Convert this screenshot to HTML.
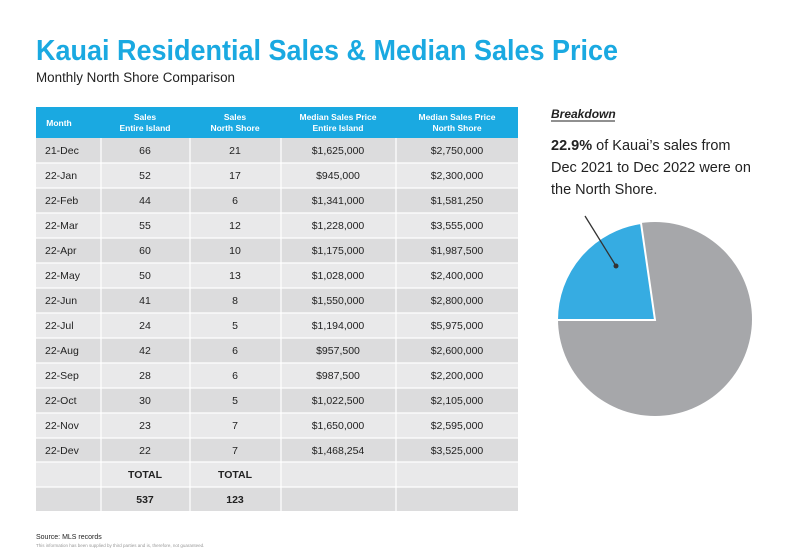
<!DOCTYPE html>
<html><head><meta charset="utf-8"><style>
html,body{margin:0;padding:0;background:#fff;}
svg{display:block;font-family:"Liberation Sans",sans-serif;}
</style></head><body>
<svg width="800" height="550" viewBox="0 0 800 550" xmlns="http://www.w3.org/2000/svg">
<rect width="800" height="550" fill="#fff"/>
<text x="36" y="60" font-size="29" font-weight="bold" fill="#1aa9e1" textLength="582" lengthAdjust="spacingAndGlyphs">Kauai Residential Sales &amp; Median Sales Price</text>
<text x="36" y="82" font-size="13.5" fill="#222" textLength="199" lengthAdjust="spacingAndGlyphs">Monthly North Shore Comparison</text>

<!-- table header -->
<rect x="36" y="107" width="482" height="31" fill="#1aa9e1"/>
<g font-size="8.5" font-weight="bold" fill="#fff" text-anchor="middle">
<text x="59" y="126">Month</text>
<text x="145" y="120">Sales</text><text x="145" y="131">Entire Island</text>
<text x="235" y="120">Sales</text><text x="235" y="131">North Shore</text>
<text x="338" y="120">Median Sales Price</text><text x="338" y="131">Entire Island</text>
<text x="457" y="120">Median Sales Price</text><text x="457" y="131">North Shore</text>
</g>
<g id="rows"></g>
<!-- rows -->
<g font-size="10.5" fill="#222">
<rect x="36" y="138" width="482" height="25" fill="#dcdcdd"/>
<rect x="36" y="163" width="482" height="25" fill="#e9e9ea"/>
<rect x="36" y="188" width="482" height="25" fill="#dcdcdd"/>
<rect x="36" y="213" width="482" height="25" fill="#e9e9ea"/>
<rect x="36" y="238" width="482" height="25" fill="#dcdcdd"/>
<rect x="36" y="263" width="482" height="25" fill="#e9e9ea"/>
<rect x="36" y="288" width="482" height="25" fill="#dcdcdd"/>
<rect x="36" y="313" width="482" height="25" fill="#e9e9ea"/>
<rect x="36" y="338" width="482" height="25" fill="#dcdcdd"/>
<rect x="36" y="363" width="482" height="25" fill="#e9e9ea"/>
<rect x="36" y="388" width="482" height="25" fill="#dcdcdd"/>
<rect x="36" y="413" width="482" height="25" fill="#e9e9ea"/>
<rect x="36" y="438" width="482" height="24" fill="#dcdcdd"/>
<rect x="36" y="462" width="482" height="25" fill="#e9e9ea"/>
<rect x="36" y="487" width="482" height="24" fill="#dcdcdd"/>
<g stroke="#fff" stroke-width="1.2">
<line x1="101" y1="138" x2="101" y2="511"/><line x1="190" y1="138" x2="190" y2="511"/>
<line x1="281" y1="138" x2="281" y2="511"/><line x1="396" y1="138" x2="396" y2="511"/>
<line x1="36" y1="163" x2="518" y2="163"/><line x1="36" y1="188" x2="518" y2="188"/>
<line x1="36" y1="213" x2="518" y2="213"/><line x1="36" y1="238" x2="518" y2="238"/>
<line x1="36" y1="263" x2="518" y2="263"/><line x1="36" y1="288" x2="518" y2="288"/>
<line x1="36" y1="313" x2="518" y2="313"/><line x1="36" y1="338" x2="518" y2="338"/>
<line x1="36" y1="363" x2="518" y2="363"/><line x1="36" y1="388" x2="518" y2="388"/>
<line x1="36" y1="413" x2="518" y2="413"/><line x1="36" y1="438" x2="518" y2="438"/>
<line x1="36" y1="462" x2="518" y2="462"/><line x1="36" y1="487" x2="518" y2="487"/>
</g>
<g>
<text x="45" y="154">21-Dec</text><text x="45" y="179">22-Jan</text><text x="45" y="204">22-Feb</text>
<text x="45" y="229">22-Mar</text><text x="45" y="254">22-Apr</text><text x="45" y="279">22-May</text>
<text x="45" y="304">22-Jun</text><text x="45" y="329">22-Jul</text><text x="45" y="354">22-Aug</text>
<text x="45" y="379">22-Sep</text><text x="45" y="404">22-Oct</text><text x="45" y="429">22-Nov</text>
<text x="45" y="454">22-Dev</text>
</g>
<g text-anchor="middle">
<text x="145" y="154">66</text><text x="145" y="179">52</text><text x="145" y="204">44</text>
<text x="145" y="229">55</text><text x="145" y="254">60</text><text x="145" y="279">50</text>
<text x="145" y="304">41</text><text x="145" y="329">24</text><text x="145" y="354">42</text>
<text x="145" y="379">28</text><text x="145" y="404">30</text><text x="145" y="429">23</text>
<text x="145" y="454">22</text>
<text x="235" y="154">21</text><text x="235" y="179">17</text><text x="235" y="204">6</text>
<text x="235" y="229">12</text><text x="235" y="254">10</text><text x="235" y="279">13</text>
<text x="235" y="304">8</text><text x="235" y="329">5</text><text x="235" y="354">6</text>
<text x="235" y="379">6</text><text x="235" y="404">5</text><text x="235" y="429">7</text>
<text x="235" y="454">7</text>
<text x="338" y="154">$1,625,000</text><text x="338" y="179">$945,000</text><text x="338" y="204">$1,341,000</text>
<text x="338" y="229">$1,228,000</text><text x="338" y="254">$1,175,000</text><text x="338" y="279">$1,028,000</text>
<text x="338" y="304">$1,550,000</text><text x="338" y="329">$1,194,000</text><text x="338" y="354">$957,500</text>
<text x="338" y="379">$987,500</text><text x="338" y="404">$1,022,500</text><text x="338" y="429">$1,650,000</text>
<text x="338" y="454">$1,468,254</text>
<text x="457" y="154">$2,750,000</text><text x="457" y="179">$2,300,000</text><text x="457" y="204">$1,581,250</text>
<text x="457" y="229">$3,555,000</text><text x="457" y="254">$1,987,500</text><text x="457" y="279">$2,400,000</text>
<text x="457" y="304">$2,800,000</text><text x="457" y="329">$5,975,000</text><text x="457" y="354">$2,600,000</text>
<text x="457" y="379">$2,200,000</text><text x="457" y="404">$2,105,000</text><text x="457" y="429">$2,595,000</text>
<text x="457" y="454">$3,525,000</text>
<g font-weight="bold">
<text x="145" y="478">TOTAL</text><text x="235" y="478">TOTAL</text>
<text x="145" y="503">537</text><text x="235" y="503">123</text>
</g>
</g>
</g>
<text x="36" y="539" font-size="7" fill="#222">Source: MLS records</text>
<text x="36" y="547" font-size="4.5" fill="#999">This information has been supplied by third parties and is, therefore, not guaranteed.</text>

<!-- right side -->
<text x="551" y="118" font-size="12" font-weight="bold" font-style="italic" fill="#222">Breakdown</text>
<line x1="551" y1="121" x2="615" y2="121" stroke="#222" stroke-width="1"/>
<g font-size="14.5" fill="#222">
<text x="551" y="150"><tspan font-weight="bold">22.9%</tspan> of Kauai’s sales from</text>
<text x="551" y="172">Dec 2021 to Dec 2022 were on</text>
<text x="551" y="194">the North Shore.</text>
</g>
<circle cx="655" cy="319" r="97" fill="#a6a7aa"/>
<path d="M655 320 L557 320 A98 98 0 0 1 641 223 Z" fill="#36ace2" stroke="#fff" stroke-width="2"/>
<line x1="585" y1="216" x2="616" y2="266" stroke="#333" stroke-width="1.3"/>
<circle cx="616" cy="266" r="2.5" fill="#333"/>
</svg>
</body></html>
